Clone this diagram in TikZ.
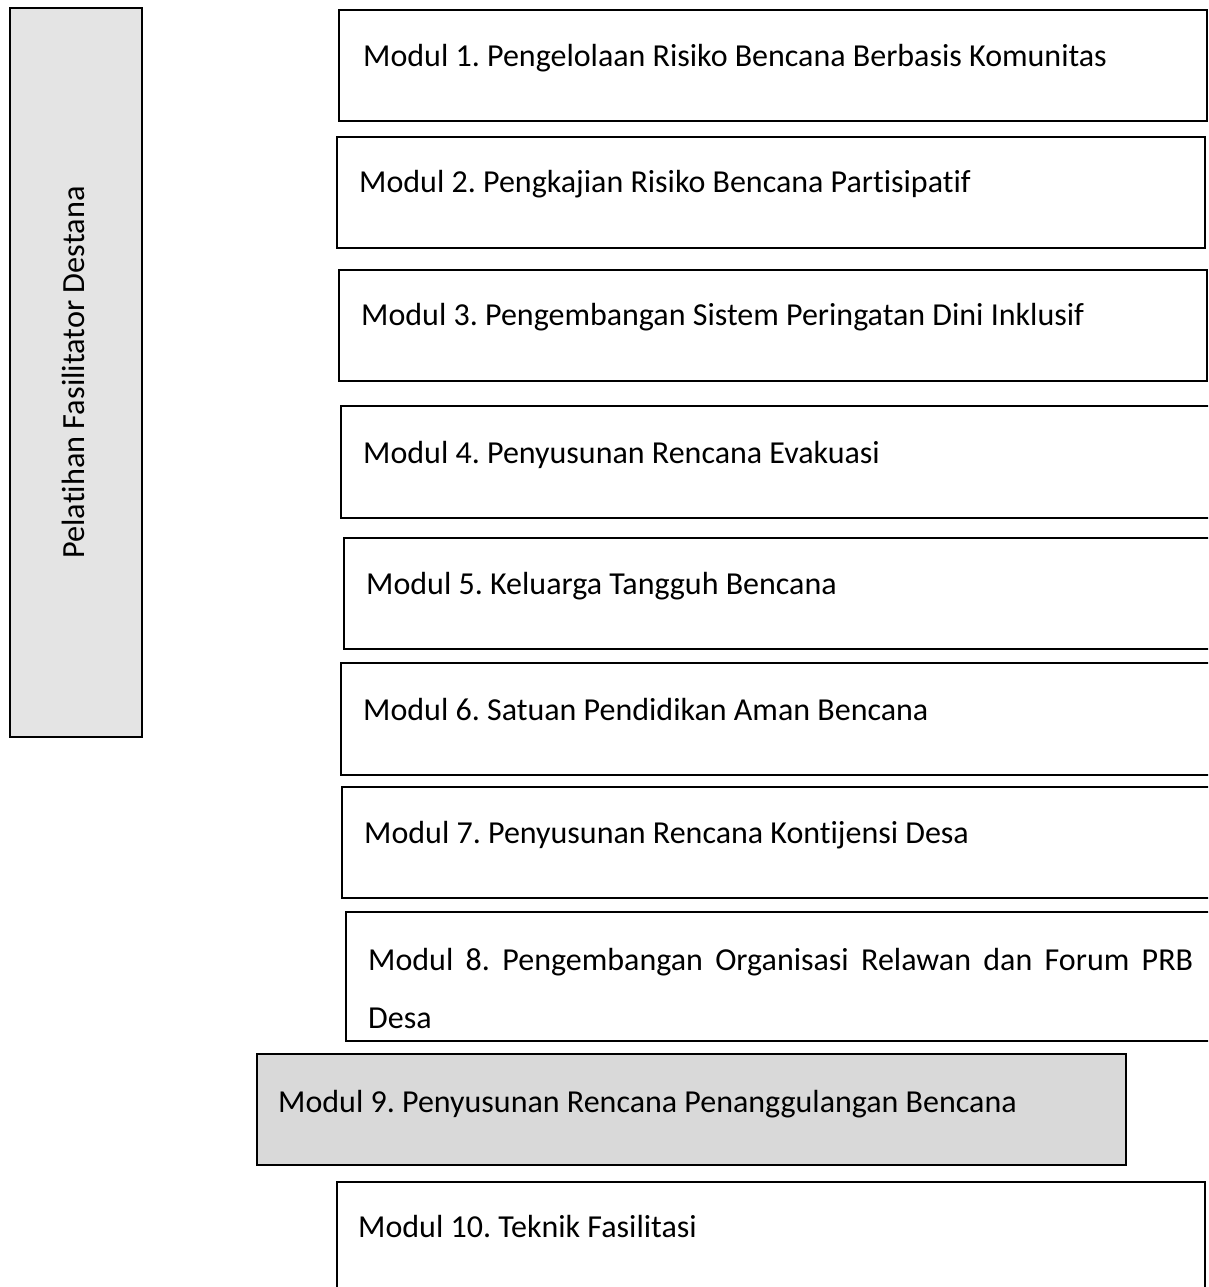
\documentclass[tikz,border=0pt]{standalone}
\usepackage{fontspec}
\setmainfont{Carlito}[Ligatures=NoCommon]
\frenchspacing
\definecolor{leftgray}{HTML}{E4E4E4}
\definecolor{modgray}{HTML}{D9D9D9}
\tikzset{
  boxbase/.style={draw=black, line width=1.6pt, rectangle, anchor=north west, inner sep=0pt, outer sep=0pt},
  modtext/.style={anchor=base west, inner sep=0pt, font=\fontsize{32}{40}\selectfont},
}
\newcommand{\modbox}[6]{% name, x1, y1, x2, y2, fill
  \node[boxbase, fill=#6, minimum width={#4-#2}, minimum height={#5-#3}] (#1) at (#2,#3) {};}
\begin{document}
\begin{tikzpicture}[x=1pt, y=-1pt]
\useasboundingbox (0,0) rectangle (1208,1287);
\clip (0,0) rectangle (1208,1287);
\fill[white] (0,0) rectangle (1208,1287);
% left box
\modbox{L}{10}{8}{142}{737}{leftgray}
\node[rotate=90, inner sep=0pt, font=\fontsize{32.3}{40}\selectfont\frenchspacing] (Lt) at ([xshift=-3pt]L.center) {Pelatihan Fasilitator Destana};
% module boxes
\modbox{m1}{339}{10}{1207}{121}{white}
\modbox{m2}{337}{137}{1205}{248}{white}
\modbox{m3}{339}{270}{1207}{381}{white}
\modbox{m4}{341}{406}{1214}{518}{white}
\modbox{m5}{344}{538}{1214}{649}{white}
\modbox{m6}{341}{663}{1214}{775}{white}
\modbox{m7}{342}{787}{1214}{898}{white}
\modbox{m8}{346}{912}{1214}{1041}{white}
\modbox{m9}{257}{1054}{1126}{1165}{modgray}
\modbox{m10}{337}{1182}{1205}{1297}{white}
% texts
\node[modtext] (t1) at ([xshift=24pt, yshift=-57pt]m1.north west) {Modul 1. Pengelolaan Risiko Bencana Berbasis Komunitas};
\node[modtext] (t2) at ([xshift=22pt, yshift=-55pt]m2.north west) {Modul 2. Pengkajian Risiko Bencana Partisipatif};
\node[modtext] (t3) at ([xshift=22pt, yshift=-55pt]m3.north west) {Modul 3. Pengembangan Sistem Peringatan Dini Inklusif};
\node[modtext] (t4) at ([xshift=22pt, yshift=-57pt]m4.north west) {Modul 4. Penyusunan Rencana Evakuasi};
\node[modtext] (t5) at ([xshift=22pt, yshift=-56pt]m5.north west) {Modul 5. Keluarga Tangguh Bencana};
\node[modtext] (t6) at ([xshift=22pt, yshift=-57pt]m6.north west) {Modul 6. Satuan Pendidikan Aman Bencana};
\node[modtext] (t7) at ([xshift=22pt, yshift=-56pt]m7.north west) {Modul 7. Penyusunan Rencana Kontijensi Desa};
\node[modtext] (t8a) at ([xshift=22pt, yshift=-58pt]m8.north west) {\makebox[825pt][s]{Modul 8. Pengembangan Organisasi Relawan dan Forum PRB}};
\node[modtext] (t8b) at ([xshift=22pt, yshift=-116pt]m8.north west) {Desa};
\node[modtext] (t9) at ([xshift=21pt, yshift=-58pt]m9.north west) {Modul 9. Penyusunan Rencana Penanggulangan Bencana};
\node[modtext] (t10) at ([xshift=21pt, yshift=-55pt]m10.north west) {Modul 10. Teknik Fasilitasi};
\end{tikzpicture}
\end{document}
